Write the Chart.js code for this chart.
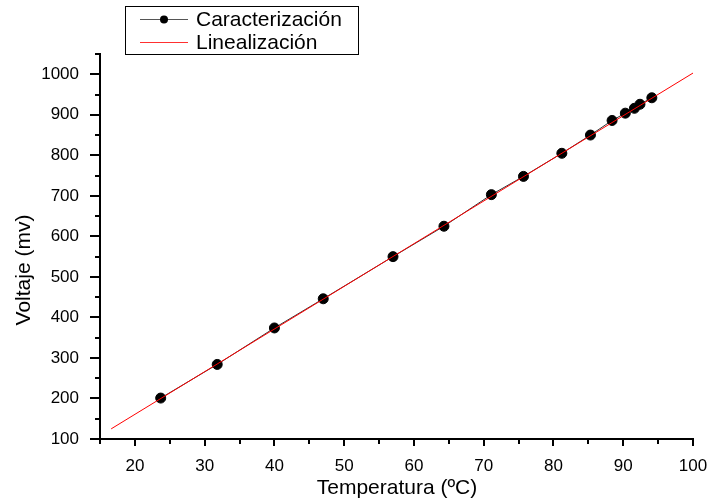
<!DOCTYPE html>
<html lang="es">
<head>
<meta charset="UTF-8">
<title>Caracterización del sensor</title>
<script src="https://cdn.jsdelivr.net/npm/chart.js"></script>
<style>
    body {
        margin: 0;
        background: #fff;
    }
    #wrap {
        width: 711px;
        height: 500px;
    }
</style>
</head>
<body>
<div id="wrap"><canvas id="myChart" width="711" height="500"></canvas></div>

<script>
    // mediciones: temperatura (ºC) y voltaje (mV)
    const temperatura = [23.7, 31.8, 40.0, 47.0, 57.0, 64.3, 71.1, 75.7, 81.2, 85.3, 88.4, 90.3, 91.6, 92.4, 94.1];
    const voltaje = [201, 284, 374, 446, 550, 625, 703, 748, 805, 850, 886, 904, 916, 926, 942];

    // recta de linealización (extremos)
    const linTemp = [16.6, 100];
    const linVolt = [125, 1003];

    const FONT = 'Arial, "Liberation Sans", sans-serif';

    function toXY(xs, ys) {
        return xs.map((x, i) => ({x: x, y: ys[i]}));
    }

    // marcas de los ejes (mayores y menores), títulos y leyenda con recuadro
    const extras = {
        id: 'extras',
        afterDraw(chart) {
            const ctx = chart.ctx;
            const xs = chart.scales.x, ys = chart.scales.y;
            const area = chart.chartArea;
            ctx.save();
            ctx.strokeStyle = '#000';
            ctx.lineWidth = 2;
            ctx.beginPath();
            for (let v = 15; v <= 100; v += 5) {
                const px = Math.round(xs.getPixelForValue(v));
                const len = v % 10 === 0 ? 7 : 5;
                ctx.moveTo(px, area.bottom);
                ctx.lineTo(px, area.bottom + len);
            }
            for (let v = 100; v <= 1050; v += 50) {
                const py = Math.round(ys.getPixelForValue(v));
                const len = v % 100 === 0 ? 10 : 5;
                ctx.moveTo(area.left, py);
                ctx.lineTo(area.left - len, py);
            }
            ctx.stroke();

            // títulos
            ctx.fillStyle = '#000';
            ctx.font = '21px ' + FONT;
            ctx.textAlign = 'center';
            ctx.textBaseline = 'alphabetic';
            ctx.fillText('Temperatura (ºC)', 397, 494);
            ctx.translate(30, 270);
            ctx.rotate(-Math.PI / 2);
            ctx.fillText('Voltaje (mv)', 0, 0);
            ctx.setTransform(1, 0, 0, 1, 0, 0);

            // leyenda
            ctx.lineWidth = 1;
            ctx.strokeStyle = '#000';
            ctx.strokeRect(125.5, 6.5, 233, 48);
            ctx.strokeStyle = '#555';
            ctx.beginPath();
            ctx.moveTo(140, 19.5);
            ctx.lineTo(188, 19.5);
            ctx.stroke();
            ctx.fillStyle = '#000';
            ctx.beginPath();
            ctx.arc(164, 19.5, 4, 0, Math.PI * 2);
            ctx.fill();
            ctx.strokeStyle = '#ff3030';
            ctx.beginPath();
            ctx.moveTo(140, 42.5);
            ctx.lineTo(188, 42.5);
            ctx.stroke();
            ctx.font = '21px ' + FONT;
            ctx.textAlign = 'left';
            ctx.textBaseline = 'middle';
            ctx.fillText('Caracterización', 196, 20);
            ctx.fillText('Linealización', 196, 43);
            ctx.restore();
        }
    };

    const ctx = document.getElementById('myChart').getContext('2d');
    const grafica = new Chart(ctx, {
        type: 'scatter',
        data: {
            datasets: [{
                label: 'Linealización',
                data: toXY(linTemp, linVolt),
                showLine: true,
                borderColor: '#ff0000',
                borderWidth: 1,
                pointRadius: 0,
                order: 0
            }, {
                label: 'Caracterización',
                data: toXY(temperatura, voltaje),
                showLine: true,
                borderColor: '#333',
                borderWidth: 1,
                backgroundColor: '#000',
                pointBackgroundColor: '#000',
                pointBorderColor: '#000',
                pointRadius: 5,
                order: 1
            }]
        },
        options: {
            responsive: false,
            animation: false,
            layout: {padding: {top: 54, right: 18, left: 0, bottom: 0}},
            plugins: {
                legend: {display: false},
                tooltip: {enabled: false}
            },
            scales: {
                x: {
                    type: 'linear',
                    min: 15,
                    max: 100,
                    afterFit: s => {
                        s.height = 61;
                        s.paddingLeft = 0;
                        s.paddingRight = 0;
                    },
                    grid: {display: false},
                    border: {display: true, color: '#000', width: 2},
                    ticks: {
                        stepSize: 10,
                        padding: 9,
                        color: '#000',
                        font: {family: FONT, size: 17},
                        callback: v => (v % 10 === 0 ? v : '')
                    }
                },
                y: {
                    type: 'linear',
                    min: 100,
                    max: 1050,
                    afterFit: s => {
                        s.width = 100;
                        s.paddingTop = 0;
                        s.paddingBottom = 0;
                    },
                    grid: {display: false},
                    border: {display: true, color: '#000', width: 2},
                    ticks: {
                        stepSize: 100,
                        padding: 13,
                        color: '#000',
                        font: {family: FONT, size: 17},
                        callback: v => (v % 100 === 0 ? v : '')
                    }
                }
            }
        },
        plugins: [extras]
    });
</script>
</body>
</html>
